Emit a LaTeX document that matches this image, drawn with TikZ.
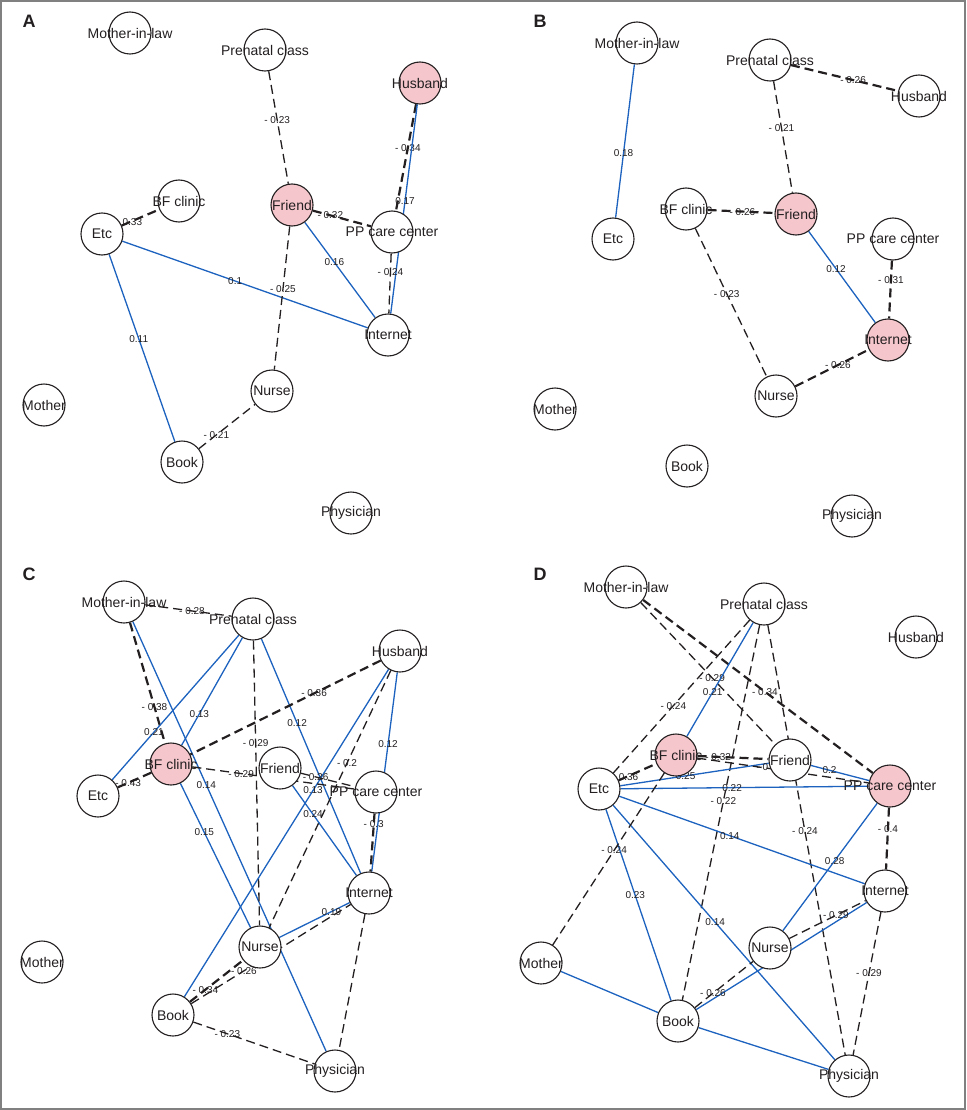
\documentclass[tikz,border=0pt]{standalone}
\usepackage{fontspec}
\setmainfont{Liberation Sans}
\usetikzlibrary{backgrounds}

\definecolor{netblue}{RGB}{28,98,190}
\definecolor{netpink}{RGB}{245,199,205}
\definecolor{netink}{RGB}{35,31,32}
\newcommand\nm[1]{\makebox[0pt]{#1}}

\begin{document}
\begin{tikzpicture}[x=1pt,y=-1pt,
    posw/.style={draw=netblue, line width=1.3pt},
    negw/.style={draw=netink, line width=1.3pt, dash pattern=on 9pt off 5pt},
    negs/.style={negw, line width=2.2pt}]

  \useasboundingbox (0,0) rectangle (966,1110);
  \draw[gray, line width=1.5pt] (1,1) rectangle (965,1109);

  \begin{scope}[every node/.style={font=\fontsize{18}{18}\selectfont\bfseries, text=netink}]
    \node (la) at (29,21)   {A};
    \node (lb) at (540,21)  {B};
    \node (lc) at (29,574)  {C};
    \node (ld) at (540,574) {D};
  \end{scope}

  \begin{scope}[every node/.style={circle, draw=netink, line width=1.1pt, fill=white,
      minimum size=42pt, inner sep=0pt, text=netink, font=\fontsize{14}{14}\selectfont}]
    % A
    \node (amil)  at (130,33)  {\nm{Mother-in-law}};
    \node (apre)  at (265,50)  {\nm{Prenatal class}};
    \node[fill=netpink] (ahus) at (420,83) {\nm{Husband}};
    \node (abf)   at (179,201) {\nm{BF clinic}};
    \node[fill=netpink] (afri) at (292,205) {\nm{Friend}};
    \node (aetc)  at (102,234) {\nm{Etc}};
    \node (app)   at (392,232) {\nm{PP care center}};
    \node (aint)  at (388,335) {\nm{Internet}};
    \node (anur)  at (272,391) {\nm{Nurse}};
    \node (amot)  at (44,405)  {\nm{Mother}};
    \node (abook) at (182,462) {\nm{Book}};
    \node (aphy)  at (351,513) {\nm{Physician}};
    % B
    \node (bmil)  at (637,43)  {\nm{Mother-in-law}};
    \node (bpre)  at (770,60)  {\nm{Prenatal class}};
    \node (bhus)  at (919,96)  {\nm{Husband}};
    \node (bbf)   at (686,209) {\nm{BF clinic}};
    \node[fill=netpink] (bfri) at (796,214) {\nm{Friend}};
    \node (betc)  at (613,239) {\nm{Etc}};
    \node (bpp)   at (893,239) {\nm{PP care center}};
    \node[fill=netpink] (bint) at (888,340) {\nm{Internet}};
    \node (bnur)  at (776,396) {\nm{Nurse}};
    \node (bmot)  at (555,409) {\nm{Mother}};
    \node (bbook) at (687,466) {\nm{Book}};
    \node (bphy)  at (852,516) {\nm{Physician}};
    % C
    \node (cmil)  at (124,602) {\nm{Mother-in-law}};
    \node (cpre)  at (253,619) {\nm{Prenatal class}};
    \node (chus)  at (400,651) {\nm{Husband}};
    \node[fill=netpink] (cbf) at (171,764) {\nm{BF clinic}};
    \node (cfri)  at (280,768) {\nm{Friend}};
    \node (cetc)  at (98,796)  {\nm{Etc}};
    \node (cpp)   at (376,792) {\nm{PP care center}};
    \node (cint)  at (369,893) {\nm{Internet}};
    \node (cnur)  at (260,947) {\nm{Nurse}};
    \node (cmot)  at (42,962)  {\nm{Mother}};
    \node (cbook) at (173,1015) {\nm{Book}};
    \node (cphy)  at (335,1071) {\nm{Physician}};
    % D
    \node (dmil)  at (626,587) {\nm{Mother-in-law}};
    \node (dpre)  at (764,604) {\nm{Prenatal class}};
    \node (dhus)  at (916,637) {\nm{Husband}};
    \node[fill=netpink] (dbf) at (676,755) {\nm{BF clinic}};
    \node (dfri)  at (790,760) {\nm{Friend}};
    \node (detc)  at (599,789) {\nm{Etc}};
    \node[fill=netpink] (dpp) at (890,786) {\nm{PP care center}};
    \node (dint)  at (885,891) {\nm{Internet}};
    \node (dnur)  at (770,948) {\nm{Nurse}};
    \node (dmot)  at (541,963) {\nm{Mother}};
    \node (dbook) at (678,1021) {\nm{Book}};
    \node (dphy)  at (849,1076) {\nm{Physician}};
  \end{scope}

  \begin{scope}[on background layer,
      every node/.style={font=\fontsize{10}{10}\selectfont, text=netink, inner sep=0pt}]
    % A
    \path (apre)  edge[negw] node[pos=.43] {- 0.23} (afri);
    \path (ahus)  edge[negs] node[pos=.41] {- 0.34} (app);
    \path (ahus)  edge[posw] node[pos=.46] {0.17} (aint);
    \path (afri)  edge[negs] node[pos=.30] {- 0.32} (app);
    \path (aetc)  edge[negs] node[pos=.20] {- 0.33} (abf);
    \path (aetc)  edge[posw] node[pos=.46] {0.1} (aint);
    \path (afri)  edge[posw] node[pos=.42] {0.16} (aint);
    \path (afri)  edge[negw] node[pos=.44] {- 0.25} (anur);
    \path (app)   edge[negw] node[pos=.31] {- 0.24} (aint);
    \path (aetc)  edge[posw] node[pos=.45] {0.11} (abook);
    \path (abook) edge[negw] node[pos=.31] {- 0.21} (anur);
    % B
    \path (bmil)  edge[posw] node[pos=.58] {0.18} (betc);
    \path (bpre)  edge[negs] node[pos=.58] {- 0.26} (bhus);
    \path (bpre)  edge[negw] node[pos=.42] {- 0.21} (bfri);
    \path (bbf)   edge[negs] node[pos=.52] {- 0.26} (bfri);
    \path (bbf)   edge[negw] node[pos=.44] {- 0.23} (bnur);
    \path (bfri)  edge[posw] node[pos=.41] {0.12} (bint);
    \path (bpp)   edge[negs] node[pos=.34] {- 0.31} (bint);
    \path (bnur)  edge[negs] node[pos=.58] {- 0.26} (bint);
    % C
    \path (cmil)  edge[negw] node[pos=.54] {- 0.28} (cpre);
    \path (cmil)  edge[negs] node[pos=.70] {- 0.38} (cbf);
    \path (cmil)  edge[posw] node[pos=.38] {0.14} (cphy);
    \path (cpre)  edge[posw] node[pos=.67] {0.21} (cetc);
    \path (cpre)  edge[posw] node[pos=.71] {0.13} (cbf);
    \path (cpre)  edge[negw] node[pos=.36] {- 0.29} (cnur);
    \path (cpre)  edge[posw] node[pos=.36] {0.12} (cint);
    \path (chus)  edge[negs] node[pos=.35] {- 0.36} (cbf);
    \path (chus)  edge[posw] node[pos=.37] {0.13} (cbook);
    \path (chus)  edge[negw] node[pos=.36] {- 0.2} (cnur);
    \path (chus)  edge[posw] node[pos=.36] {0.12} (cint);
    \path (cfri)  edge[negw] node[pos=.27] {- 0.26} (cpp);
    \path (cfri)  edge[posw] node[pos=.32] {0.24} (cint);
    \path (cbf)   edge[negw] node[pos=.30] {- 0.29} (cpp);
    \path (cbf)   edge[negs] node[pos=.69] {- 0.43} (cetc);
    \path (cbf)   edge[posw] node[pos=.34] {0.15} (cnur);
    \path (cint)  edge[posw] node[pos=.26] {0.19} (cnur);
    \path (cbook) edge[negw] node[pos=.33] {- 0.26} (cint);
    \path (cbook) edge[negs] node[pos=.29] {- 0.34} (cnur);
    \path (cbook) edge[negw] node[pos=.28] {- 0.23} (cphy);
    \path (cint)  edge[negw] (cphy);
    \path (cpp)   edge[negs] node[pos=.19] {- 0.3} (cint);
    % D
    \path (dmil)  edge[negw] node[pos=.53] {- 0.29} (dfri);
    \path (dmil)  edge[negs] node[pos=.53] {- 0.34} (dpp);
    \path (dpre)  edge[posw] node[pos=.61] {0.21} (dbf);
    \path (dpre)  edge[negw] node[pos=.56] {- 0.24} (detc);
    \path (dpre)  edge[negw] node[pos=.47] {- 0.22} (dbook);
    \path (dpre)  edge[negw] node[pos=.48] {- 0.24} (dphy);
    \path (dbf)   edge[negs] node[pos=.29] {- 0.32} (dfri);
    \path (detc)  edge[negs] node[pos=.18] {- 0.36} (dbf);
    \path (detc)  edge[posw] node[pos=.44] {0.25} (dfri);
    \path (detc)  edge[posw] node[pos=.45] {0.22} (dpp);
    \path (dbf)   edge[negw] node[pos=.38] {- 0} (dpp);
    \path (dfri)  edge[posw] node[pos=.32] {0.2} (dpp);
    \path (detc)  edge[posw] node[pos=.45] {0.14} (dint);
    \path (detc)  edge[posw] node[pos=.45] {0.23} (dbook);
    \path (detc)  edge[posw] node[pos=.46] {0.14} (dphy);
    \path (dbf)   edge[negw] node[pos=.45] {- 0.24} (dmot);
    \path (dmot)  edge[posw] (dbook);
    \path (dbook) edge[posw] (dphy);
    \path (dbook) edge[posw] (dint);
    \path (dpp)   edge[posw] node[pos=.45] {0.28} (dnur);
    \path (dpp)   edge[negs] node[pos=.35] {- 0.4} (dint);
    \path (dnur)  edge[negw] node[pos=.61] {- 0.29} (dint);
    \path (dbook) edge[negw] node[pos=.31] {- 0.26} (dnur);
    \path (dint)  edge[negw] node[pos=.43] {- 0.29} (dphy);
  \end{scope}

\end{tikzpicture}
\end{document}
